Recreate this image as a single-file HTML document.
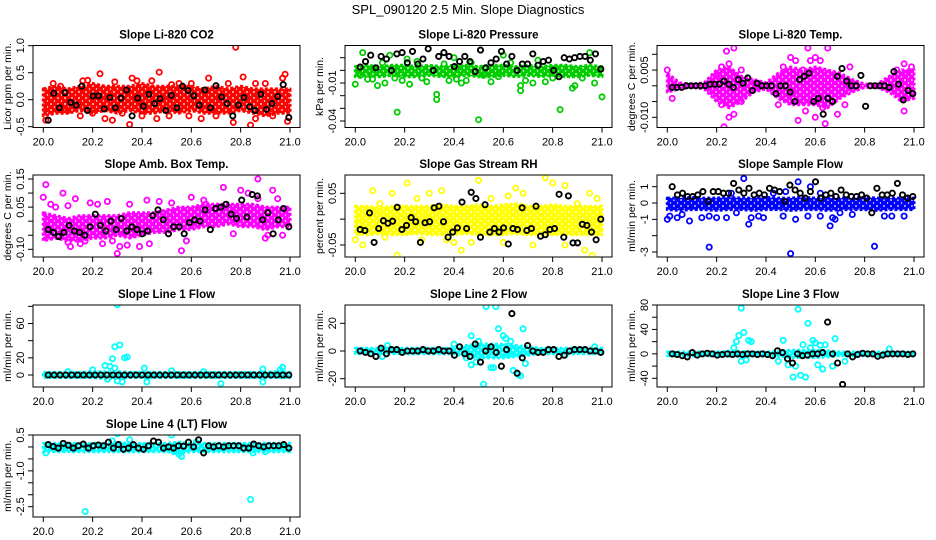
<!DOCTYPE html>
<html><head><meta charset="utf-8"><style>
html,body{margin:0;padding:0;background:#fff;}
svg{display:block;font-family:"Liberation Sans",sans-serif;}
</style></head><body>
<svg id="chart" width="936" height="540" viewBox="0 0 936 540" xmlns="http://www.w3.org/2000/svg">
<rect x="0" y="0" width="936" height="540" fill="#fff"/>
<defs id="defs"></defs>
<text x="468" y="14" text-anchor="middle" font-size="13">SPL_090120  2.5 Min. Slope Diagnostics</text>
</svg>
<script>
// ---------- data ----------
const xTicks = [20.0, 20.2, 20.4, 20.6, 20.8, 21.0];
const xTickLabels = ["20.0","20.2","20.4","20.6","20.8","21.0"];
const bandX = [20.0,20.05,20.1,20.15,20.2,20.25,20.3,20.35,20.4,20.45,20.5,20.55,20.6,20.65,20.7,20.75,20.8,20.85,20.9,20.95,21.0];

const co2BandLo = [-0.3,-0.25,-0.25,-0.2,-0.25,-0.2,-0.25,-0.2,-0.25,-0.25,-0.2,-0.25,-0.2,-0.25,-0.25,-0.25,-0.2,-0.25,-0.3,-0.25,-0.25];
const co2BandHi = [0.2,0.25,0.2,0.25,0.3,0.25,0.25,0.25,0.3,0.25,0.25,0.25,0.25,0.2,0.25,0.2,0.25,0.2,0.2,0.2,0.2];
const co2Pts = [[20.01,-0.38],[20.04,0.3],[20.1,-0.2],[20.16,0.35],[20.18,0.36],[20.23,0.48],[20.25,-0.35],[20.28,-0.38],[20.29,0.33],[20.35,-0.46],[20.36,0.4],[20.38,0.35],[20.4,-0.3],[20.44,0.35],[20.47,0.51],[20.46,-0.35],[20.51,-0.3],[20.55,0.3],[20.59,-0.3],[20.64,-0.35],[20.67,0.4],[20.75,0.3],[20.77,-0.42],[20.78,0.97],[20.81,0.42],[20.84,-0.47],[20.86,-0.35],[20.86,0.3],[20.9,0.3],[20.98,0.47],[20.97,0.4],[20.99,-0.4],[20.7,-0.3],[20.6,0.3],[20.15,-0.3],[20.32,-0.25],[20.52,0.28],[20.93,-0.3],[20.07,0.25],[20.2,-0.25]];
const co2Black = [-0.38,0.12,-0.15,0.13,-0.05,-0.1,0.25,-0.2,0.07,0.07,-0.17,0.04,-0.15,0.03,0.18,-0.3,0.03,-0.12,0.1,-0.07,0.02,-0.2,0.08,-0.15,0.25,0.17,0.07,-0.1,0.18,-0.15,0.26,0.05,-0.07,-0.3,-0.1,0.04,-0.13,-0.2,0.1,-0.18,-0.07,0.06,0.28,-0.33];

const presBandLo = [-0.005,-0.004,-0.005,-0.004,-0.005,-0.005,-0.004,-0.005,-0.005,-0.004,-0.005,-0.005,-0.004,-0.005,-0.004,-0.005,-0.004,-0.005,-0.005,-0.004,-0.005];
const presBandHi = [0.003,0.004,0.003,0.004,0.004,0.003,0.004,0.003,0.004,0.004,0.003,0.004,0.004,0.003,0.004,0.003,0.004,0.004,0.003,0.004,0.003];
const presPts = [[20.0,-0.011],[20.02,-0.004],[20.03,0.014],[20.05,-0.007],[20.07,-0.007],[20.09,-0.012],[20.11,0.006],[20.14,0.012],[20.16,-0.006],[20.17,-0.033],[20.19,-0.008],[20.21,0.009],[20.22,-0.011],[20.25,0.007],[20.27,-0.006],[20.29,-0.009],[20.33,-0.019],[20.33,-0.023],[20.36,0.005],[20.38,-0.008],[20.41,-0.007],[20.43,-0.01],[20.45,-0.008],[20.47,0.006],[20.5,-0.039],[20.52,-0.004],[20.55,-0.009],[20.58,-0.005],[20.6,0.012],[20.63,0.006],[20.67,-0.012],[20.67,-0.016],[20.69,-0.008],[20.72,-0.01],[20.74,0.008],[20.77,-0.009],[20.8,-0.006],[20.83,-0.031],[20.88,-0.014],[20.89,-0.012],[20.92,-0.006],[20.95,0.014],[20.97,-0.01],[21.0,-0.021],[20.12,-0.01],[20.4,0.01]];
const presBlack = [0.0026,0.007,0.012,0.002,0.011,0.009,0.0,0.013,0.014,0.006,0.015,0.005,0.009,0.017,0.0,0.011,0.014,0.011,0.003,0.007,0.011,0.007,-0.001,0.016,0.002,0.006,0.009,0.015,0.005,0.011,0.0,0.005,0.005,0.013,0.004,0.007,0.008,0.0,-0.005,0.01,0.009,0.01,0.011,0.011,0.008,0.013,0.001];

const tempBandLo = [-0.002,-0.001,-0.0004,-0.001,-0.005,-0.007,-0.005,-0.002,-0.001,-0.004,-0.006,-0.006,-0.006,-0.007,-0.004,-0.002,-0.0005,-0.0005,-0.002,-0.005,-0.004];
const tempBandHi = [0.004,0.001,0.0004,0.001,0.005,0.006,0.003,0.002,0.001,0.004,0.006,0.005,0.006,0.005,0.004,0.002,0.0005,0.0005,0.003,0.005,0.005];
const tempPts = [[20.0,0.005],[20.02,-0.004],[20.22,0.006],[20.24,0.011],[20.25,0.007],[20.27,0.012],[20.23,-0.013],[20.25,-0.01],[20.27,-0.009],[20.22,-0.006],[20.3,0.005],[20.47,0.006],[20.5,0.009],[20.53,-0.011],[20.55,0.005],[20.57,0.012],[20.58,0.008],[20.6,0.009],[20.62,0.008],[20.64,-0.012],[20.65,0.012],[20.69,-0.009],[20.72,-0.006],[20.74,0.006],[20.56,-0.008],[20.63,-0.007],[20.96,-0.008],[20.96,0.007],[20.99,0.006],[20.93,0.005],[20.45,-0.006],[20.52,0.008],[20.6,-0.01],[20.97,0.004],[20.2,0.003],[20.3,-0.005]];
const tempBlack = [-0.0005,-0.0005,-0.0005,0,0,0,0,0,0.0005,0.0005,0.0005,0.0015,0.0005,-0.0005,0.002,0.0008,0.0025,-0.0015,0.0008,0,0,0,-0.0025,0,0,-0.002,-0.005,0.002,0.003,0.004,-0.005,-0.004,-0.009,-0.004,-0.005,0.003,0.0055,0.0015,0,0,0.0033,-0.0065,0,0,0,0,-0.0005,0.0045,0.0005,-0.0045,-0.0015,-0.0025];

const ambBandLo = [-0.07,-0.06,-0.07,-0.07,-0.06,-0.06,-0.05,-0.06,-0.05,-0.04,-0.04,-0.03,-0.03,-0.02,-0.02,-0.01,-0.02,-0.02,-0.03,-0.02,-0.02];
const ambBandHi = [0.03,0.02,0.01,0.02,0.02,0.02,0.02,0.03,0.03,0.03,0.04,0.05,0.05,0.06,0.06,0.06,0.06,0.06,0.05,0.05,0.05];
const ambPts = [[20.0,0.085],[20.01,0.13],[20.03,0.06],[20.05,0.05],[20.08,0.1],[20.1,0.055],[20.13,0.08],[20.1,-0.075],[20.11,-0.09],[20.15,-0.08],[20.17,-0.07],[20.19,0.065],[20.22,0.06],[20.24,-0.08],[20.26,0.07],[20.3,-0.115],[20.28,-0.07],[20.31,-0.09],[20.34,-0.085],[20.35,0.06],[20.39,-0.09],[20.43,-0.08],[20.42,0.075],[20.47,0.07],[20.52,0.065],[20.56,-0.105],[20.58,-0.07],[20.6,0.085],[20.65,0.075],[20.66,0.06],[20.73,0.12],[20.77,-0.045],[20.8,0.11],[20.83,0.1],[20.87,0.15],[20.87,0.08],[20.91,-0.05],[20.93,0.11],[20.9,-0.06],[20.95,0.08],[20.97,-0.05]];
const ambBlack = [-0.03,-0.04,-0.055,-0.04,-0.015,-0.035,-0.04,-0.05,-0.02,0.025,-0.015,-0.035,0.0,-0.03,0.01,-0.035,-0.02,-0.03,-0.045,-0.035,0.02,0.04,0.005,-0.045,-0.02,-0.02,-0.045,-0.005,0.005,0.0,0.04,-0.03,0.045,0.05,0.06,0.025,0.01,0.075,0.015,0.095,0.09,0.005,0.03,-0.045,0.005,0.045,-0.02];

const rhBandLo = [-0.03,-0.03,-0.028,-0.03,-0.03,-0.028,-0.03,-0.03,-0.03,-0.028,-0.03,-0.03,-0.03,-0.028,-0.03,-0.03,-0.03,-0.03,-0.03,-0.03,-0.03];
const rhBandHi = [0.025,0.025,0.022,0.025,0.025,0.025,0.025,0.028,0.025,0.025,0.028,0.025,0.028,0.03,0.025,0.025,0.028,0.025,0.025,0.025,0.025];
const rhPts = [[20.0,-0.04],[20.03,-0.05],[20.07,0.055],[20.1,0.03],[20.15,0.05],[20.17,-0.07],[20.21,0.07],[20.25,0.04],[20.3,0.05],[20.35,0.055],[20.4,-0.045],[20.43,-0.06],[20.47,-0.045],[20.5,0.075],[20.55,0.04],[20.6,-0.045],[20.65,0.06],[20.68,0.05],[20.72,-0.05],[20.77,0.08],[20.8,0.07],[20.85,0.065],[20.85,-0.05],[20.9,0.03],[20.93,-0.06],[20.95,0.05],[20.96,-0.07],[20.98,0.04],[20.12,-0.035],[20.62,0.045],[20.37,-0.04],[20.27,-0.04]];
const rhBlack = [-0.02,-0.022,0.012,-0.045,-0.018,-0.003,-0.008,-0.004,0.023,-0.02,-0.012,0.003,-0.005,-0.045,-0.007,-0.005,0.022,0.025,-0.005,-0.035,-0.025,-0.017,0.033,-0.018,0.052,0.04,-0.035,0.028,-0.025,-0.018,-0.025,-0.017,-0.048,-0.018,-0.02,0.022,-0.022,-0.018,0.025,-0.033,-0.03,-0.02,-0.018,0.048,-0.035,0.045,-0.046,-0.046,-0.01,-0.012,-0.025,-0.04,0.0];

const flowBandLo = [-0.4,-0.45,-0.4,-0.4,-0.45,-0.4,-0.4,-0.45,-0.4,-0.4,-0.45,-0.4,-0.4,-0.45,-0.4,-0.4,-0.4,-0.45,-0.4,-0.4,-0.4];
const flowBandHi = [0.3,0.3,0.35,0.3,0.3,0.35,0.3,0.3,0.35,0.3,0.3,0.35,0.3,0.3,0.3,0.3,0.35,0.3,0.3,0.3,0.3];
const flowPts = [[20.0,-1.0],[20.01,-0.8],[20.04,-0.9],[20.06,-0.7],[20.09,-1.1],[20.14,-0.9],[20.17,-2.7],[20.17,-0.8],[20.2,-0.9],[20.24,-0.9],[20.28,-0.6],[20.31,1.5],[20.33,-1.3],[20.34,-0.9],[20.37,-0.8],[20.39,-0.9],[20.47,-0.8],[20.5,-3.1],[20.52,-1.0],[20.53,1.3],[20.58,1.0],[20.57,-0.8],[20.62,-0.8],[20.66,-1.4],[20.67,-0.9],[20.68,-1.0],[20.7,-0.6],[20.75,-0.7],[20.84,-2.65],[20.88,-0.8],[20.91,-0.8],[20.96,-0.8],[20.43,0.6],[20.48,0.7],[20.26,0.6],[20.62,0.6]];
const flowBlack = [1.0,0.5,0.6,0.4,0.4,0.5,0.7,0.1,0.7,0.7,0.6,0.6,1.2,0.8,0.6,0.9,0.5,0.6,0.5,0.9,0.8,0.7,0.1,1.1,0.8,0.6,0.3,0.7,1.3,0.3,0.5,0.6,0.4,0.8,0.5,0.4,0.4,0.5,0.3,-0.6,0.9,0.5,0.5,0.6,1.2,0.5,0.3,0.4];

const l1BandLo = [-3,-3,-3,-3,-3,-4,-4,-3,-3,-3,-3,-3,-3,-3,-3,-3,-3,-3,-3,-3,-3];
const l1BandHi = [3,3,3,3,4,4,4,3,3,3,3,3,3,3,3,3,3,3,3,4,3];
const l1Pts = [[20.3,82],[20.31,35],[20.29,33],[20.28,19],[20.34,21],[20.33,20],[20.25,11],[20.27,10],[20.29,8],[20.32,-8],[20.3,-7],[20.26,-5],[20.41,8],[20.42,-8],[20.72,-10],[20.89,-8],[20.89,7],[20.97,9],[20.96,6],[20.52,5],[20.2,6],[20.65,4],[20.1,4]];
const l1Black = [0,0,0,0,0,0,0,0,0,0,0,0,0,0,0,0,0,0,0,0,0,0,0,0,0,0,0,0,0,0,0,0,0,0,0,0,0,0,0,0,0,0];

const l2BandLo = [-2,-2,-2,-2,-2,-2,-2,-2,-2,-4,-5,-5,-5,-4,-3,-2,-2,-2,-2,-2,-2];
const l2BandHi = [2,2,2,2,2,2,2,2,2,4,5,5,5,4,3,2,2,2,2,2,2];
const l2Pts = [[20.47,11],[20.47,-10],[20.45,-5],[20.49,-8],[20.5,7],[20.53,32],[20.55,-12],[20.56,-12],[20.57,32],[20.58,16],[20.6,11],[20.61,9],[20.63,7],[20.64,-14],[20.66,-17],[20.67,-18],[20.68,16],[20.69,-9],[20.52,-24],[20.62,-3],[20.11,-4],[20.13,4],[20.97,3],[20.4,5],[20.85,-3]];
const l2Black = [0,-1,-2,-4,2,-2,1,1,-1,0,0,0,1,0,0,1,0,0,-3,3,-2,-4,5,-8,0,3,-1,-11,1,27,-16,-5,4,0,-1,-1,1,1,-4,-3,0,1,1,1,0,0,-1];

const l3BandLo = [-3,-3,-3,-3,-3,-4,-4,-3,-3,-4,-6,-6,-6,-5,-3,-3,-3,-3,-3,-3,-3];
const l3BandHi = [3,3,3,3,3,4,4,3,3,4,6,6,6,5,3,3,3,3,3,3,3];
const l3Pts = [[20.3,75],[20.31,35],[20.29,30],[20.28,20],[20.33,22],[20.34,20],[20.27,10],[20.32,-10],[20.3,-12],[20.47,22],[20.49,-18],[20.51,-38],[20.52,-20],[20.53,73],[20.54,-35],[20.55,15],[20.56,-38],[20.57,50],[20.59,22],[20.6,18],[20.61,-18],[20.63,-25],[20.64,15],[20.67,-20],[20.68,25],[20.72,-12],[20.9,8],[20.45,-12],[20.62,14],[20.58,10]];
const l3Black = [0,-1,-3,-5,2,-2,0,1,0,-2,-1,0,-1,0,-1,0,0,-1,0,-1,-3,5,2,-8,-15,0,-3,-2,0,0,2,52,0,-15,-50,0,-5,-1,1,0,0,-4,-2,0,0,0,0,-1,0];

const l4BandLo = [-0.2,-0.2,-0.2,-0.2,-0.2,-0.2,-0.2,-0.2,-0.2,-0.2,-0.2,-0.25,-0.2,-0.2,-0.2,-0.2,-0.2,-0.2,-0.2,-0.2,-0.2];
const l4BandHi = [0.15,0.15,0.15,0.15,0.15,0.15,0.2,0.15,0.15,0.15,0.15,0.2,0.15,0.15,0.15,0.15,0.15,0.15,0.15,0.15,0.15];
const l4Pts = [[20.01,-0.25],[20.17,-2.7],[20.3,0.55],[20.35,0.3],[20.5,-3.2],[20.52,0.5],[20.55,-0.3],[20.56,-0.4],[20.53,-0.2],[20.84,-2.2],[20.85,-0.25],[20.9,-0.2],[20.28,0.25],[20.62,0.2]];
const l4Black = [0.1,0.02,-0.05,0.15,0.07,-0.05,0.05,0.12,-0.05,0.05,0.08,0.05,0.2,-0.05,0.1,-0.1,-0.05,0.1,-0.05,-0.1,0.05,0.25,0.2,-0.05,0.0,-0.05,0.05,0.03,0.2,0.0,0.3,-0.25,0.05,0.0,0.05,0.0,0.05,0.05,0.05,-0.05,-0.05,0.12,0.05,0.0,0.05,0.05,0.05,0.1,-0.05];

// ---------- layout ----------
const colLeft = [33, 345, 657];
const rowTop = [45.5, 175, 305, 435];
const BW = 267, BH = 82;
const NS = "http://www.w3.org/2000/svg";
const svg = document.getElementById('chart');
const defs = document.getElementById('defs');

const panels = [
 {name:'co2', title:'Slope Li-820 CO2', ylab:'Licor ppm per min.', c:0, r:0, color:'#ff0000', lo:co2BandLo, hi:co2BandHi, pts:co2Pts, blk:co2Black, cal:[1.0,45.7,-0.5,126.7], ticks:[-0.5,0,0.5,1.0], labels:['-0.5','0.0','0.5','1.0']},
 {name:'pressure', title:'Slope Li-820 Pressure', ylab:'kPa per min.', c:1, r:0, color:'#00cd00', lo:presBandLo, hi:presBandHi, pts:presPts, blk:presBlack, cal:[0.01,57.7,-0.04,121], ticks:[0.01,0,-0.01,-0.02,-0.03,-0.04], labels:['','','-0.01','','','-0.04']},
 {name:'temp', title:'Slope Li-820 Temp.', ylab:'degrees C per min.', c:2, r:0, color:'#ff00ff', lo:tempBandLo, hi:tempBandHi, pts:tempPts, blk:tempBlack, cal:[0.01,54.3,-0.01,117.3], ticks:[0.01,0.005,0,-0.005,-0.01], labels:['','0.005','','','-0.010']},
 {name:'amb-box-temp', title:'Slope Amb. Box Temp.', ylab:'degrees C per min.', c:0, r:1, color:'#ff00ff', lo:ambBandLo, hi:ambBandHi, pts:ambPts, blk:ambBlack, cal:[0.15,179,-0.10,249.3], ticks:[0.15,0.1,0.05,0,-0.05,-0.1], labels:['0.15','','0.05','','','-0.10']},
 {name:'gas-rh', title:'Slope Gas Stream RH', ylab:'percent per min.', c:1, r:1, color:'#ffff00', lo:rhBandLo, hi:rhBandHi, pts:rhPts, blk:rhBlack, cal:[0.05,193.3,-0.05,245], ticks:[0.05,0,-0.05], labels:['0.05','','-0.05']},
 {name:'sample-flow', title:'Slope Sample Flow', ylab:'ml/min per min.', c:2, r:1, color:'#0000ff', lo:flowBandLo, hi:flowBandHi, pts:flowPts, blk:flowBlack, cal:[1,186.7,-3,252], ticks:[1,0,-1,-2,-3], labels:['1','0','-1','','-3']},
 {name:'line1-flow', title:'Slope Line 1 Flow', ylab:'ml/min per min.', c:0, r:2, color:'#00ffff', lo:l1BandLo, hi:l1BandHi, pts:l1Pts, blk:l1Black, cal:[0,375,60,323.5], ticks:[0,20,40,60,80], labels:['0','20','','60','']},
 {name:'line2-flow', title:'Slope Line 2 Flow', ylab:'ml/min per min.', c:1, r:2, color:'#00ffff', lo:l2BandLo, hi:l2BandHi, pts:l2Pts, blk:l2Black, cal:[20,323.3,-20,378.7], ticks:[-20,0,20], labels:['-20','0','20']},
 {name:'line3-flow', title:'Slope Line 3 Flow', ylab:'ml/min per min.', c:2, r:2, color:'#00ffff', lo:l3BandLo, hi:l3BandHi, pts:l3Pts, blk:l3Black, cal:[80,305,-40,378.3], ticks:[80,60,40,20,0,-20,-40], labels:['80','','40','','0','','-40']},
 {name:'line4-flow', title:'Slope Line 4 (LT) Flow', ylab:'ml/min per min.', c:0, r:3, color:'#00ffff', lo:l4BandLo, hi:l4BandHi, pts:l4Pts, blk:l4Black, cal:[0.5,435,-2.5,506.7], ticks:[0.5,0,-0.5,-1,-1.5,-2,-2.5], labels:['0.5','','','-1.0','','','-2.5']}
];

function mk(tag, attrs, parent){
  const e = document.createElementNS(NS, tag);
  for (const k in attrs) e.setAttribute(k, attrs[k]);
  parent.appendChild(e);
  return e;
}

panels.forEach(p => {
  const L = colLeft[p.c], T = rowTop[p.r], B = T + BH;
  const xs = v => L + 10.3 + (v - 20) * 246.7;
  const ys = v => p.cal[1] + (v - p.cal[0]) * (p.cal[3] - p.cal[1]) / (p.cal[2] - p.cal[0]);

  // speckled texture pattern (overlapping open circles)
  const patId = 'pat-' + p.name;
  const pat = mk('pattern', {id: patId, x: 0, y: 0, width: 7, height: 6, patternUnits: 'userSpaceOnUse'}, defs);
  mk('rect', {x: 0, y: 0, width: 7, height: 6, fill: p.color}, pat);
  mk('circle', {cx: 2, cy: 2, r: 0.9, fill: '#fff'}, pat);
  mk('circle', {cx: 5.5, cy: 5, r: 0.7, fill: '#fff'}, pat);

  const g = mk('g', {}, svg);
  
  

  const clipId = 'clip-' + p.name;
  const cp = mk('clipPath', {id: clipId}, g);
  mk('rect', {x: L, y: T, width: BW, height: BH}, cp);

  const t = mk('text', {x: L + BW/2, y: T - 7, 'text-anchor':'middle', 'font-size':'11.5', 'font-weight':'bold'}, g);
  t.textContent = p.title;
  
  

  const plot = mk('g', {'clip-path': 'url(#' + clipId + ')'}, g);
  
  

  let d = '';
  bandX.forEach((x, i) => { d += (i ? 'L' : 'M') + xs(x).toFixed(1) + ' ' + ys(p.hi[i]).toFixed(1); });
  for (let i = bandX.length - 1; i >= 0; i--) d += 'L' + xs(bandX[i]).toFixed(1) + ' ' + ys(p.lo[i]).toFixed(1);
  d += 'Z';
  const band = mk('path', {d: d, fill: 'url(#' + patId + ')', stroke: p.color, 'stroke-width': 3, 'stroke-dasharray': '3 2', 'stroke-linejoin':'round'}, plot);
  
  

  p.pts.forEach(pt => {
    const c = mk('circle', {cx: xs(pt[0]).toFixed(1), cy: ys(pt[1]).toFixed(1), r: 2.6, fill: 'none', stroke: p.color, 'stroke-width': 1.8}, plot);
    
    
  });
  const n = p.blk.length;
  p.blk.forEach((v, i) => {
    const x = 20.02 + i * (0.975 / (n - 1));
    const c = mk('circle', {cx: xs(x).toFixed(1), cy: ys(v).toFixed(1), r: 2.6, fill: 'none', stroke: '#000', 'stroke-width': 1.9}, plot);
    
    
  });

  const box = mk('rect', {x: L, y: T, width: BW, height: BH, fill: 'none', stroke: '#000', 'stroke-width': 1}, g);
  
  

  xTicks.forEach((v, i) => {
    const x = xs(v);
    mk('line', {x1: x, y1: B, x2: x, y2: B + 5, stroke: '#000'}, g);
    const tl = mk('text', {x: x, y: B + 18, 'text-anchor': 'middle', 'font-size': '11'}, g);
    tl.textContent = xTickLabels[i];
    
    
  });
  p.ticks.forEach((v, i) => {
    const y = ys(v);
    mk('line', {x1: L - 5, y1: y, x2: L, y2: y, stroke: '#000'}, g);
    if (p.labels[i]) {
      const tl = mk('text', {x: 0, y: 0, 'text-anchor': 'middle', 'font-size': '11', transform: 'translate(' + (L - 9) + ',' + y.toFixed(1) + ') rotate(-90)'}, g);
      tl.textContent = p.labels[i];
      
      
    }
  });
  const yl = mk('text', {x: 0, y: 0, 'text-anchor': 'middle', 'font-size': '10.5', transform: 'translate(' + (L - 22) + ',' + (T + BH/2) + ') rotate(-90)'}, g);
  yl.textContent = p.ylab;
  
  
});
</script>
</body></html>
